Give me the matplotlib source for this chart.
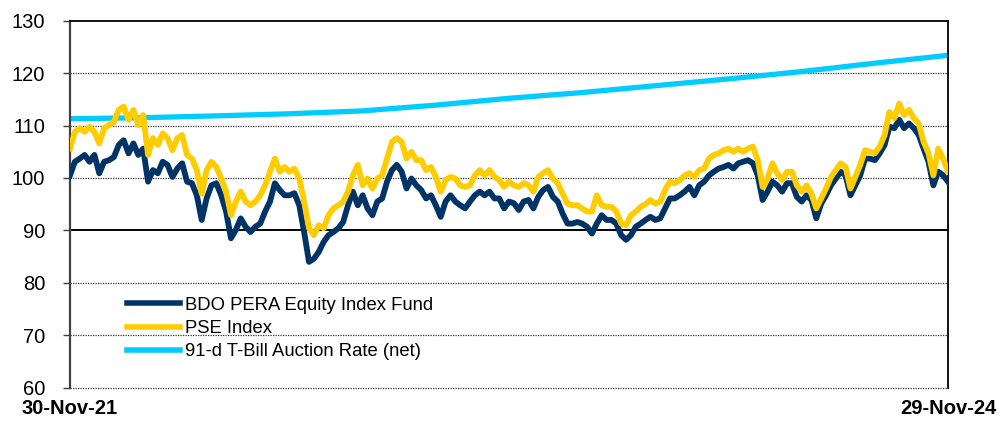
import numpy as np
import pandas as pd
import matplotlib
matplotlib.use("Agg")
import matplotlib.pyplot as plt

plt.rcParams['font.family'] = ['Liberation Sans', 'DejaVu Sans']

start_date = "2021-11-30"
end_date = "2024-11-29"
x_labels = ["30-Nov-21", "29-Nov-24"]

bdo_fund = [
    100.5, 103.1, 103.7, 104.4, 103.1, 104.4, 100.9, 103.1, 103.4, 104.0, 106.3, 107.2, 104.7, 106.6, 104.4,
    105.6, 99.3, 101.5, 100.9, 103.1, 102.5, 100.2, 101.8, 102.8, 99.3, 99.0, 96.7, 92.0, 96.1,
    98.6, 99.0, 96.7, 93.6, 88.5, 90.1, 92.3, 90.7, 89.7, 90.7, 91.3, 93.6, 95.5, 99.0, 97.7,
    96.7, 96.7, 97.1, 94.8, 89.7, 84.0, 84.6, 85.9, 87.8, 89.1, 89.7, 90.4, 91.6, 94.8,
    97.4, 94.8, 96.7, 94.2, 92.9, 95.5, 96.1, 99.3, 101.5, 102.5, 101.2, 98.0, 99.9, 98.6, 97.7,
    96.1, 96.7, 94.8, 92.6, 95.5, 96.7, 95.5, 94.8, 94.2, 95.5, 96.7, 97.4, 96.7, 97.4, 96.1,
    96.1, 94.2, 95.5, 95.2, 93.9, 95.5, 95.8, 94.2, 96.4, 97.7, 98.3, 96.4, 95.5, 93.2, 91.3,
    91.3, 91.6, 91.3, 90.7, 89.4, 91.3, 92.9, 92.0, 92.0, 91.3, 89.1, 88.2, 89.1, 90.7, 91.3, 92.0,
    92.6, 92.0, 92.3, 94.2, 96.1, 96.1, 96.7, 97.4, 98.3, 96.7, 98.6, 99.3, 100.5, 101.2, 101.8,
    102.1, 102.5, 101.8, 102.8, 103.1, 103.4, 102.8, 100.5, 95.8, 97.4, 99.3, 98.6, 97.4, 99.0, 99.0,
    96.4, 95.5, 96.7, 95.8, 92.3, 95.1, 96.7, 98.6, 99.9, 101.2, 100.5, 96.7, 98.6, 100.5, 103.7,
    103.7, 103.4, 104.7, 106.3, 109.8, 109.5, 111.1, 109.5, 110.4, 109.5, 108.2, 105.6, 103.1, 98.6,
    101.2, 100.5, 99.3,
]

pse_index = [
    105.6, 108.8, 109.5, 108.8, 109.8, 108.8, 106.6, 109.5, 110.1, 110.7, 113.0, 113.6, 111.1, 113.0, 110.1,
    112.0, 104.4, 107.6, 106.3, 108.5, 107.6, 105.3, 107.6, 108.2, 104.4, 103.7, 101.5, 97.0, 101.5,
    103.1, 102.1, 99.9, 97.4, 92.9, 95.5, 97.4, 95.5, 94.8, 95.5, 96.7, 98.6, 101.2, 103.7, 101.2,
    102.1, 101.2, 101.8, 99.9, 95.5, 90.4, 89.1, 91.0, 90.4, 92.9, 94.2, 94.8, 95.5, 97.4,
    100.5, 102.5, 98.6, 99.9, 98.0, 99.9, 100.5, 103.7, 106.9, 107.6, 106.9, 103.7, 105.0, 103.4, 103.4,
    101.5, 102.1, 100.2, 97.4, 99.6, 100.2, 99.9, 98.6, 98.3, 98.6, 100.5, 101.5, 100.5, 101.5, 100.2,
    99.6, 98.3, 99.3, 98.6, 98.3, 99.0, 98.6, 97.4, 100.2, 100.9, 101.5, 99.9, 99.0, 97.0, 95.1,
    94.8, 94.8, 94.2, 93.6, 93.6, 96.7, 94.8, 94.5, 94.5, 93.6, 91.3, 91.0, 92.9, 93.6, 94.5, 95.0,
    95.8, 95.1, 95.5, 97.7, 99.3, 99.0, 99.6, 100.5, 100.9, 100.2, 101.5, 101.8, 103.7, 104.4, 104.7,
    105.3, 105.6, 105.0, 105.6, 105.0, 105.6, 106.0, 103.4, 98.3, 99.9, 102.8, 100.9, 99.6, 101.2, 101.2,
    98.6, 97.4, 98.6, 97.0, 94.2, 96.1, 98.0, 100.2, 101.5, 102.8, 102.1, 98.0, 100.2, 102.5, 105.3,
    105.0, 104.7, 106.0, 108.2, 112.6, 111.4, 114.2, 112.0, 113.0, 111.4, 110.4, 106.9, 104.7, 100.5,
    105.6, 103.7, 101.2,
]

tbill_rate = [111.3, 111.5, 111.85, 112.25, 112.8, 113.9, 115.2, 116.3, 117.6, 118.9, 120.3, 121.9, 123.4]

labels = ["BDO PERA Equity Index Fund", "PSE Index", "91-d T-Bill Auction Rate (net)"]
colors = ["#003366", "#FFCC00", "#00CCFF"]

y_ticks = [60, 70, 80, 90, 100, 110, 120, 130]


def dates_for(n):
    return pd.date_range(start_date, end_date, periods=n)


fig = plt.figure(figsize=(10, 4.21), dpi=100)
ax = fig.add_axes([0.070, 0.0791, 0.878, 0.8717])

l1, = ax.plot(dates_for(len(bdo_fund)), bdo_fund, color=colors[0], lw=4.2, zorder=3,
              solid_joinstyle='round', label=labels[0])
l2, = ax.plot(dates_for(len(pse_index)), pse_index, color=colors[1], lw=4.2, zorder=4,
              solid_joinstyle='round', label=labels[1])
l3, = ax.plot(dates_for(len(tbill_rate)), tbill_rate, color=colors[2], lw=3.8, zorder=2,
              label=labels[2])

ax.set_xlim(pd.Timestamp(start_date), pd.Timestamp(end_date))
ax.set_ylim(60, 130)

# gridlines
for v in y_ticks:
    if v in (90, 130):
        continue
    ax.axhline(v, color='#333333', lw=0.9, ls=(0, (1, 1)), zorder=1, clip_on=False)
ax.axhline(90, color='black', lw=1.4, zorder=1)

for s in ['top', 'right']:
    ax.spines[s].set_color('black')
    ax.spines[s].set_linewidth(1.3)
ax.spines['left'].set_color('#404040')
ax.spines['left'].set_linewidth(1.6)
ax.spines['bottom'].set_visible(False)

ax.set_yticks(y_ticks)
ax.set_yticklabels([str(v) for v in y_ticks], fontsize=14.5)
ax.tick_params(axis='y', length=5, width=1.0, color='#404040', pad=13)

ax.set_xticks([pd.Timestamp(start_date), pd.Timestamp(end_date)])
ax.set_xticklabels(x_labels, fontsize=14.5, fontweight='bold')
ax.tick_params(axis='x', length=0, pad=8)

leg = ax.legend(handles=[l1, l2, l3], loc='upper left', bbox_to_anchor=(0.127, 0.295),
                bbox_transform=fig.transFigure, frameon=False, fontsize=13.3,
                handlelength=2.87, handletextpad=0.27, labelspacing=0.34,
                borderpad=0, borderaxespad=0)
for h in leg.get_lines():
    h.set_linewidth(4.0)

fig.savefig("out.png", dpi=100)
